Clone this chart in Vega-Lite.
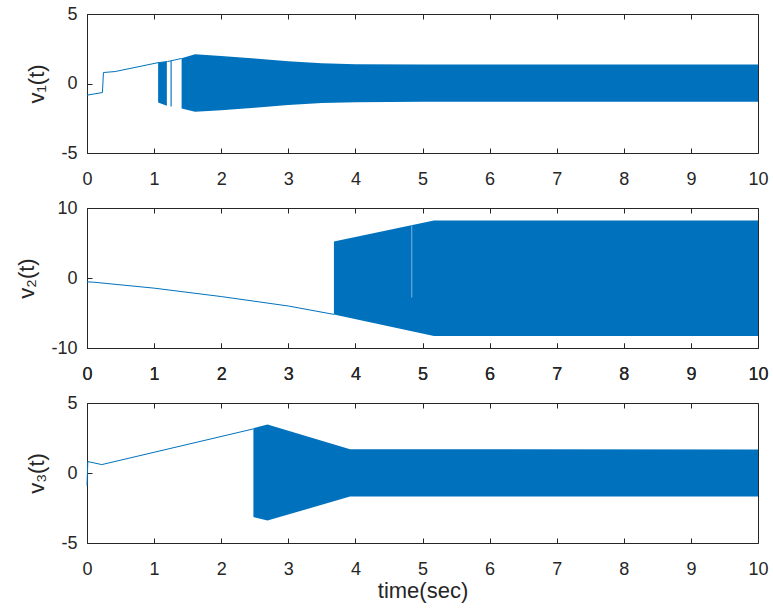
{
  "$schema": "https://vega.github.io/schema/vega-lite/v6.json",
  "background": "white",
  "padding": {"left": 15, "top": 4, "right": 5, "bottom": 5},
  "datasets": {
    "v1line": [
      {"t": 0, "v": -0.84}, {"t": 0.23, "v": -0.65}, {"t": 0.245, "v": 0.79},
      {"t": 0.42, "v": 0.86}, {"t": 1.06, "v": 1.5}, {"t": 1.2, "v": 1.58}, {"t": 1.41, "v": 1.8}
    ],
    "v1band": [
      {"seg": "a", "t": 1.06, "hi": 1.5, "lo": -1.37},
      {"seg": "a", "t": 1.19, "hi": 1.58, "lo": -1.6},
      {"seg": "b", "t": 1.245, "hi": 1.62, "lo": -1.65},
      {"seg": "b", "t": 1.262, "hi": 1.63, "lo": -1.65},
      {"seg": "c", "t": 1.41, "hi": 1.82, "lo": -1.8},
      {"seg": "c", "t": 1.61, "hi": 2.1, "lo": -2.03},
      {"seg": "c", "t": 2.0, "hi": 1.98, "lo": -1.92},
      {"seg": "c", "t": 2.5, "hi": 1.8, "lo": -1.74},
      {"seg": "c", "t": 3.0, "hi": 1.6, "lo": -1.55},
      {"seg": "c", "t": 3.5, "hi": 1.45, "lo": -1.41},
      {"seg": "c", "t": 4.0, "hi": 1.39, "lo": -1.34},
      {"seg": "c", "t": 5.0, "hi": 1.36, "lo": -1.32},
      {"seg": "c", "t": 10.0, "hi": 1.36, "lo": -1.32}
    ],
    "v2line": [
      {"t": 0, "v": -0.55}, {"t": 0.1, "v": -0.6}, {"t": 1.0, "v": -1.45},
      {"t": 2.0, "v": -2.65}, {"t": 3.0, "v": -4.0}, {"t": 3.68, "v": -5.2}
    ],
    "v2band": [
      {"seg": "a", "t": 3.68, "hi": 5.2, "lo": -5.2},
      {"seg": "a", "t": 5.17, "hi": 8.2, "lo": -8.3},
      {"seg": "a", "t": 10.0, "hi": 8.2, "lo": -8.3}
    ],
    "v2streak": [
      {"t": 4.84, "hi": 7.5, "lo": -2.8}
    ],
    "v3line": [
      {"t": 0, "v": -0.9}, {"t": 0.012, "v": 0.82}, {"t": 0.22, "v": 0.6}, {"t": 2.48, "v": 3.15}
    ],
    "v3band": [
      {"seg": "a", "t": 2.48, "hi": 3.2, "lo": -3.15},
      {"seg": "a", "t": 2.69, "hi": 3.47, "lo": -3.4},
      {"seg": "a", "t": 3.92, "hi": 1.7, "lo": -1.68},
      {"seg": "a", "t": 10.0, "hi": 1.68, "lo": -1.68}
    ]
  },
  "config": {
    "view": {"stroke": "#262626", "strokeWidth": 1},
    "font": "Liberation Sans",
    "axis": {
      "labelFont": "Liberation Sans",
      "labelFontSize": 18,
      "labelColor": "#262626",
      "titleFont": "Liberation Sans",
      "titleFontSize": 22,
      "titleFontWeight": "normal",
      "titleColor": "#262626",
      "labelFlush": false
    }
  },
  "vconcat": [
    {
      "width": 671, "height": 139,
      "layer": [
        {
          "data": {"name": "v1line"},
          "mark": {"type": "line", "color": "#0072BD", "strokeWidth": 1},
          "encoding": {
            "x": {"field": "t", "type": "quantitative", "scale": {"domain": [0, 10], "nice": false},
                  "axis": {"orient": "bottom", "domain": false, "grid": false, "ticks": true, "tickSize": 5, "tickColor": "#262626", "offset": -5, "labelPadding": 17, "values": [0,1,2,3,4,5,6,7,8,9,10], "title": null}},
            "y": {"field": "v", "type": "quantitative", "scale": {"domain": [-5, 5], "nice": false},
                  "axis": {"orient": "left", "domain": false, "grid": false, "ticks": true, "tickSize": 5, "tickColor": "#262626", "offset": -5, "labelPadding": 10, "values": [-5, 0, 5], "labelExpr": "'' + datum.value", "title": "v₁(t)", "titlePadding": 12}}
          }
        },
        {
          "data": {"name": "v1band"},
          "mark": {"type": "area", "color": "#0072BD", "opacity": 1},
          "encoding": {
            "detail": {"field": "seg"},
            "x": {"field": "t", "type": "quantitative", "scale": {"domain": [0, 10], "nice": false},
                  "axis": {"orient": "top", "domain": false, "grid": false, "ticks": true, "tickSize": 5, "tickColor": "#262626", "offset": -5, "values": [0,1,2,3,4,5,6,7,8,9,10], "labels": false, "title": null}},
            "y": {"field": "hi", "type": "quantitative", "scale": {"domain": [-5, 5], "nice": false},
                  "axis": {"orient": "left", "domain": false, "grid": false, "ticks": true, "tickSize": 5, "tickColor": "#262626", "offset": -5, "labelPadding": 10, "values": [-5, 0, 5], "labelExpr": "'' + datum.value", "title": "v₁(t)", "titlePadding": 12}},
            "y2": {"field": "lo"}
          }
        }
      ]
    },
    {
      "width": 671, "height": 140,
      "layer": [
        {
          "data": {"name": "v2line"},
          "mark": {"type": "line", "color": "#0072BD", "strokeWidth": 1},
          "encoding": {
            "x": {"field": "t", "type": "quantitative", "scale": {"domain": [0, 10], "nice": false},
                  "axis": {"orient": "bottom", "domain": false, "grid": false, "ticks": true, "tickSize": 5, "tickColor": "#262626", "offset": -5, "labelPadding": 17, "values": [0,1,2,3,4,5,6,7,8,9,10], "title": null}},
            "y": {"field": "v", "type": "quantitative", "scale": {"domain": [-10, 10], "nice": false},
                  "axis": {"orient": "left", "domain": false, "grid": false, "ticks": true, "tickSize": 5, "tickColor": "#262626", "offset": -5, "labelPadding": 10, "values": [-10, 0, 10], "labelExpr": "'' + datum.value", "title": "v₂(t)", "titlePadding": 12}}
          }
        },
        {
          "data": {"name": "v2band"},
          "mark": {"type": "area", "color": "#0072BD", "opacity": 1},
          "encoding": {
            "detail": {"field": "seg"},
            "x": {"field": "t", "type": "quantitative", "scale": {"domain": [0, 10], "nice": false},
                  "axis": {"orient": "top", "domain": false, "grid": false, "ticks": true, "tickSize": 5, "tickColor": "#262626", "offset": -5, "values": [0,1,2,3,4,5,6,7,8,9,10], "labels": false, "title": null}},
            "y": {"field": "hi", "type": "quantitative", "scale": {"domain": [-10, 10], "nice": false},
                  "axis": {"orient": "left", "domain": false, "grid": false, "ticks": true, "tickSize": 5, "tickColor": "#262626", "offset": -5, "labelPadding": 10, "values": [-10, 0, 10], "labelExpr": "'' + datum.value", "title": "v₂(t)", "titlePadding": 12}},
            "y2": {"field": "lo"}
          }
        },
        {
          "data": {"name": "v2streak"},
          "mark": {"type": "rule", "color": "#7fb2e0", "strokeWidth": 1},
          "encoding": {
            "x": {"field": "t", "type": "quantitative", "scale": {"domain": [0, 10], "nice": false},
                  "axis": {"orient": "bottom", "domain": false, "grid": false, "ticks": true, "tickSize": 5, "tickColor": "#262626", "offset": -5, "labelPadding": 17, "values": [0,1,2,3,4,5,6,7,8,9,10], "title": null}},
            "y": {"field": "hi", "type": "quantitative", "scale": {"domain": [-10, 10], "nice": false},
                  "axis": {"orient": "left", "domain": false, "grid": false, "ticks": true, "tickSize": 5, "tickColor": "#262626", "offset": -5, "labelPadding": 10, "values": [-10, 0, 10], "labelExpr": "'' + datum.value", "title": "v₂(t)", "titlePadding": 12}},
            "y2": {"field": "lo"}
          }
        }
      ]
    },
    {
      "width": 671, "height": 140,
      "layer": [
        {
          "data": {"name": "v3line"},
          "mark": {"type": "line", "color": "#0072BD", "strokeWidth": 1},
          "encoding": {
            "x": {"field": "t", "type": "quantitative", "scale": {"domain": [0, 10], "nice": false},
                  "axis": {"orient": "bottom", "domain": false, "grid": false, "ticks": true, "tickSize": 5, "tickColor": "#262626", "offset": -5, "labelPadding": 17, "values": [0,1,2,3,4,5,6,7,8,9,10], "title": "time(sec)", "titlePadding": 2}},
            "y": {"field": "v", "type": "quantitative", "scale": {"domain": [-5, 5], "nice": false},
                  "axis": {"orient": "left", "domain": false, "grid": false, "ticks": true, "tickSize": 5, "tickColor": "#262626", "offset": -5, "labelPadding": 10, "values": [-5, 0, 5], "labelExpr": "'' + datum.value", "title": "v₃(t)", "titlePadding": 12}}
          }
        },
        {
          "data": {"name": "v3band"},
          "mark": {"type": "area", "color": "#0072BD", "opacity": 1},
          "encoding": {
            "detail": {"field": "seg"},
            "x": {"field": "t", "type": "quantitative", "scale": {"domain": [0, 10], "nice": false},
                  "axis": {"orient": "top", "domain": false, "grid": false, "ticks": true, "tickSize": 5, "tickColor": "#262626", "offset": -5, "values": [0,1,2,3,4,5,6,7,8,9,10], "labels": false, "title": null}},
            "y": {"field": "hi", "type": "quantitative", "scale": {"domain": [-5, 5], "nice": false},
                  "axis": {"orient": "left", "domain": false, "grid": false, "ticks": true, "tickSize": 5, "tickColor": "#262626", "offset": -5, "labelPadding": 10, "values": [-5, 0, 5], "labelExpr": "'' + datum.value", "title": "v₃(t)", "titlePadding": 12}},
            "y2": {"field": "lo"}
          }
        }
      ]
    }
  ],
  "bounds": "flush",
  "spacing": 55
}
